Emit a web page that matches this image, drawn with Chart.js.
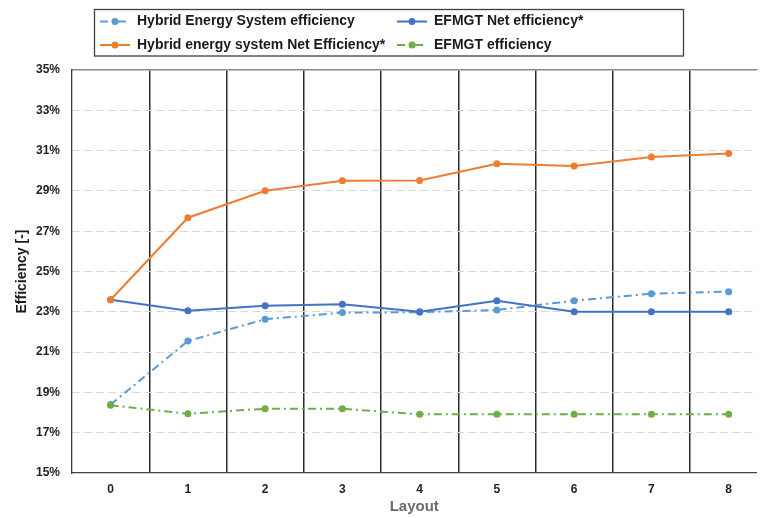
<!DOCTYPE html>
<html>
<head>
<meta charset="utf-8">
<script src="https://cdn.jsdelivr.net/npm/chart.js@4.4.1/dist/chart.umd.min.js"></script>
<style>
  html, body { margin: 0; padding: 0; background: #ffffff; overflow: hidden; }
  #wrap { width: 760px; height: 518px; }
</style>
</head>
<body>
<div id="wrap"><canvas id="c" width="760" height="518"></canvas></div>
<script>
// ---- data ----
const categories = [0, 1, 2, 3, 4, 5, 6, 7, 8];
const hybridEfficiency    = [18.4, 21.55, 22.63, 22.96, 22.98, 23.09, 23.55, 23.9, 24.0];
const efmgtNetEfficiency  = [23.6, 23.05, 23.3, 23.37, 23.0, 23.55, 23.0, 23.0, 23.0];
const hybridNetEfficiency = [23.6, 27.67, 29.01, 29.5, 29.52, 30.35, 30.24, 30.68, 30.85];
const efmgtEfficiency     = [18.36, 17.94, 18.19, 18.19, 17.91, 17.91, 17.91, 17.91, 17.91];
const yTickMin = 15, yTickMax = 35, yTickStep = 2;
const seriesLabels = [
  'Hybrid Energy System efficiency',
  'EFMGT Net efficiency*',
  'Hybrid energy system Net Efficiency*',
  'EFMGT efficiency'
];
const xTitle = 'Layout';
const yTitle = 'Efficiency [-]';

const FONT = "'Liberation Sans', Arial, Helvetica, sans-serif";
const toPts = arr => categories.map((c, i) => ({ x: c, y: arr[i] }));
const boundaries = categories.slice(0, -1).map(c => c + 0.5);

// custom grid-style legend (Excel-like two columns)
const gridLegend = {
  id: 'gridLegend',
  afterDraw(chart, args, opts) {
    const ctx = chart.ctx;
    ctx.save();
    ctx.strokeStyle = opts.borderColor;
    ctx.lineWidth = opts.borderWidth;
    ctx.strokeRect(opts.box[0], opts.box[1], opts.box[2], opts.box[3]);
    chart.data.datasets.forEach((ds, i) => {
      const col = i % 2, row = Math.floor(i / 2);
      const x = opts.colX[col], y = opts.rowY[row];
      ctx.strokeStyle = ds.borderColor;
      ctx.lineWidth = ds.borderWidth;
      ctx.setLineDash(ds.borderDash || []);
      ctx.beginPath();
      ctx.moveTo(x, y);
      ctx.lineTo(x + opts.lineLen, y);
      ctx.stroke();
      ctx.setLineDash([]);
      ctx.fillStyle = ds.pointBackgroundColor;
      ctx.beginPath();
      ctx.arc(x + opts.lineLen / 2, y, ds.pointRadius, 0, Math.PI * 2);
      ctx.fill();
      ctx.fillStyle = opts.color;
      ctx.font = opts.font;
      ctx.textBaseline = 'middle';
      ctx.textAlign = 'left';
      ctx.fillText(ds.label, x + opts.lineLen + opts.gap, y);
    });
    ctx.restore();
  }
};

const dashDot = [8, 4, 2, 4];
function ds(label, arr, color, dash, order) {
  return {
    label, data: toPts(arr),
    borderColor: color, backgroundColor: color,
    pointBackgroundColor: color, pointBorderColor: color,
    borderWidth: 2, borderDash: dash,
    pointRadius: 3.5, pointBorderWidth: 0, pointHoverRadius: 3.5,
    tension: 0, fill: false, order
  };
}

const noSidePad = s => { s.paddingRight = 0; s.paddingLeft = 0; };
const X_MIN = -0.5, X_MAX = 8.36;

new Chart(document.getElementById('c'), {
  type: 'line',
  data: {
    datasets: [
      ds(seriesLabels[0], hybridEfficiency, '#5B9BD5', dashDot, 3),
      ds(seriesLabels[1], efmgtNetEfficiency, '#4472C4', [], 2),
      ds(seriesLabels[2], hybridNetEfficiency, '#ED7D31', [], 0),
      ds(seriesLabels[3], efmgtEfficiency, '#70AD47', dashDot, 1)
    ]
  },
  options: {
    responsive: false,
    animation: false,
    layout: { padding: { top: 60, left: 0, right: 0, bottom: 0 } },
    plugins: {
      legend: { display: false },
      tooltip: { enabled: false },
      gridLegend: {
        box: [94.5, 9.5, 589, 46.5],
        borderColor: '#404040', borderWidth: 1.3,
        colX: [100, 397], rowY: [21.5, 45],
        lineLen: 30, gap: 7,
        font: "bold 14px " + FONT, color: '#1a1a1a'
      }
    },
    scales: {
      x: {
        type: 'linear', position: 'bottom',
        min: X_MIN, max: X_MAX,
        afterBuildTicks: axis => { axis.ticks = categories.map(v => ({ value: v })); },
        afterFit: s => { s.height = 45; noSidePad(s); },
        grid: { display: false, drawTicks: false },
        border: { display: true, color: '#404040', width: 1.3 },
        ticks: { autoSkip: false, maxRotation: 0, padding: 9, color: '#1f1f1f',
                 font: { family: FONT, size: 12, weight: 'bold' } },
        title: { display: true, text: xTitle, color: '#6b6b6b',
                 font: { family: FONT, size: 15, weight: 'bold' }, padding: { top: 0, bottom: 2 } }
      },
      x2: {
        type: 'linear', position: 'top',
        min: X_MIN, max: X_MAX,
        afterBuildTicks: axis => { axis.ticks = boundaries.map(v => ({ value: v })); },
        afterFit: s => { s.height = 10; noSidePad(s); },
        grid: { display: true, drawTicks: false, drawOnChartArea: true, color: '#2b2b2b', lineWidth: 1.5 },
        border: { display: true, color: '#8a8a8a', width: 1.5 },
        ticks: { display: false }
      },
      y: {
        type: 'linear', position: 'left',
        min: yTickMin, max: yTickMax,
        afterFit: s => { s.width = 72; },
        ticks: { stepSize: yTickStep, padding: 12, color: '#1f1f1f',
                 font: { family: FONT, size: 12, weight: 'bold' },
                 callback: v => v + '%' },
        grid: { drawTicks: false, lineWidth: 1,
                color: c => (c.tick && (c.tick.value === yTickMin || c.tick.value === yTickMax)) ? 'rgba(0,0,0,0)' : '#d9d9d9' },
        border: { display: true, color: '#404040', width: 1.3, dash: [8, 4] },
        title: { display: true, text: yTitle, color: '#1a1a1a',
                 font: { family: FONT, size: 14, weight: 'bold' }, padding: { top: 14, bottom: 0 } }
      }
    }
  },
  plugins: [gridLegend]
});
</script>
</body>
</html>
